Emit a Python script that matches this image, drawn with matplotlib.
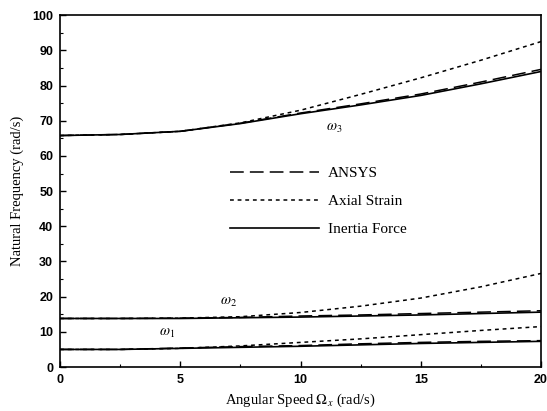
import numpy as np
import matplotlib
matplotlib.use('Agg')
import matplotlib.pyplot as plt
from matplotlib.ticker import MultipleLocator

# ---- data ----
speed = [0, 2.5, 5, 7.5, 10, 12.5, 15, 17.5, 20]

w1_inertia = [5.0, 5.0, 5.3, 5.6, 5.9, 6.3, 6.7, 7.0, 7.3]
w1_ansys = [5.0, 5.0, 5.4, 5.8, 6.1, 6.6, 7.0, 7.3, 7.5]
w1_axial = [5.0, 5.0, 5.3, 6.0, 7.0, 8.0, 9.2, 10.4, 11.5]

w2_inertia = [13.8, 13.8, 13.8, 14.0, 14.2, 14.5, 14.8, 15.2, 15.6]
w2_ansys = [13.8, 13.8, 13.9, 14.1, 14.5, 14.8, 15.2, 15.6, 16.0]
w2_axial = [13.8, 13.8, 13.9, 14.3, 15.5, 17.3, 19.6, 22.8, 26.6]

w3_inertia = [65.8, 66.1, 67.0, 69.2, 72.0, 74.5, 77.2, 80.5, 84.0]
w3_ansys = [65.8, 66.1, 67.0, 69.3, 72.2, 74.8, 77.6, 81.0, 84.6]
w3_axial = [65.8, 66.1, 67.0, 69.4, 73.0, 77.5, 82.2, 87.2, 92.5]

mode_labels = [r'$\omega_1$', r'$\omega_2$', r'$\omega_3$']
mode_label_pos = [(4.45, 9.7), (7.0, 18.6), (11.4, 68.2)]

serif = ['Liberation Serif', 'DejaVu Serif']
sans = ['Liberation Sans', 'DejaVu Sans']
plt.rcParams['mathtext.fontset'] = 'stix'

fig = plt.figure(figsize=(5.47, 4.11), dpi=100)
ax = fig.add_axes([0.110, 0.107, 0.879, 0.856])

ansys_style = dict(color='black', lw=1.1, dashes=(9, 4))
axial_style = dict(color='black', lw=1.1, dashes=(2.5, 2.5))
inertia_style = dict(color='black', lw=1.2)

for i, (a, s, f) in enumerate([(w1_ansys, w1_axial, w1_inertia),
                               (w2_ansys, w2_axial, w2_inertia),
                               (w3_ansys, w3_axial, w3_inertia)]):
    ax.plot(speed, a, label='ANSYS' if i == 0 else None, **ansys_style)
    ax.plot(speed, s, label='Axial Strain' if i == 0 else None, **axial_style)
    ax.plot(speed, f, label='Inertia Force' if i == 0 else None, **inertia_style)

for txt, (x, y) in zip(mode_labels, mode_label_pos):
    ax.text(x, y, txt, ha='center', va='center', fontsize=10.5)

ax.set_xlim(0, 20)
ax.set_ylim(0, 100)
ax.xaxis.set_major_locator(MultipleLocator(5))
ax.xaxis.set_minor_locator(MultipleLocator(2.5))
ax.yaxis.set_major_locator(MultipleLocator(10))
ax.yaxis.set_minor_locator(MultipleLocator(5))
ax.tick_params(which='both', direction='in', top=False, right=False)
ax.tick_params(which='major', length=4, width=1, labelsize=9, pad=5)
ax.tick_params(which='minor', length=2, width=0.8)
for lab in ax.get_xticklabels() + ax.get_yticklabels():
    lab.set_family(sans)
    lab.set_fontweight('bold')
for sp in ax.spines.values():
    sp.set_linewidth(1.2)

ax.set_xlabel(r'Angular Speed $\Omega_x$ (rad/s)', family=serif, fontsize=10.5, labelpad=4)
ax.set_ylabel('Natural Frequency (rad/s)', family=serif, fontsize=10.5, labelpad=6)

leg = ax.legend(loc='upper left', bbox_to_anchor=(0.325, 0.61), frameon=False,
                prop={'family': serif, 'size': 11}, handlelength=5.8,
                handletextpad=0.6, labelspacing=0.95)

fig.savefig('out.png', dpi=100)
